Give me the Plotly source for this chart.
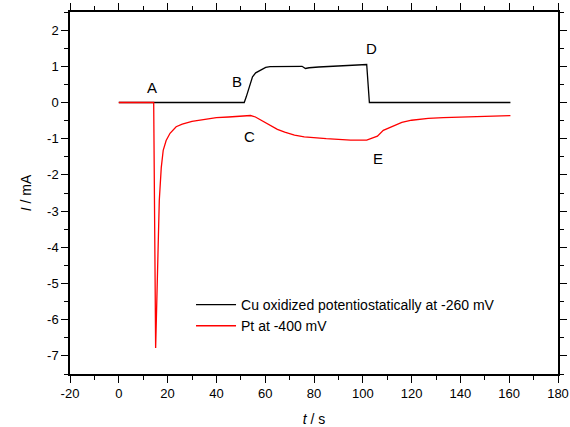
import plotly.graph_objects as go

# Cu oxidized potentiostatically at -260 mV (black)
t_cu = [0, 51.4, 52.2, 53.4, 54.8, 56.1, 58.2, 60.2, 62, 70, 75.1, 76.5, 78, 81.9, 90, 95, 101.6, 102.7, 160.5]
i_cu = [0, 0, 0.15, 0.43, 0.71, 0.82, 0.89, 0.97, 0.99, 1.0, 1.0, 0.94, 0.96, 0.98, 1.01, 1.03, 1.05, 0, 0]

# Pt at -400 mV (red)
t_pt = [0, 14.3, 15.1, 16.6, 17.4, 18.2, 19.4, 21, 23.5, 26, 30, 35, 40, 45, 50, 54, 56, 58.8, 62, 65, 68, 72, 76, 80, 85,
        90, 95, 101.6, 104.4, 106, 108.4, 111, 113.2, 116, 120, 126.8, 133, 140, 150, 160.5]
i_pt = [0, 0, -6.78, -2.7, -1.8, -1.32, -1.05, -0.85, -0.67, -0.6, -0.52, -0.46, -0.42, -0.4, -0.37, -0.36, -0.4, -0.51,
        -0.63, -0.74, -0.82, -0.9, -0.95, -0.98, -1.0, -1.02, -1.04, -1.04, -0.97, -0.93, -0.77, -0.7, -0.63, -0.55,
        -0.49, -0.44, -0.42, -0.4, -0.38, -0.36]

names = ["Cu oxidized potentiostatically at -260 mV", "Pt at -400 mV"]

# point labels
lab_text = ["A", "B", "C", "D", "E"]
lab_t = [13.7, 48.6, 53.7, 103.7, 106.1]
lab_i = [0.41, 0.57, -0.93, 1.49, -1.55]

# tick labels
x_ticks = [-20, 0, 20, 40, 60, 80, 100, 120, 140, 160, 180]
x_ticklabels = ["-20", "0", "20", "40", "60", "80", "100", "120", "140", "160", "180"]
y_ticks = [2, 1, 0, -1, -2, -3, -4, -5, -6, -7]
y_ticklabels = ["2", "1", "0", "-1", "-2", "-3", "-4", "-5", "-6", "-7"]

FONT = "Arial, Liberation Sans, sans-serif"

fig = go.Figure()
fig.add_trace(go.Scatter(x=t_cu, y=i_cu, mode="lines", name=names[0],
                         line=dict(color="#000000", width=1.3)))
fig.add_trace(go.Scatter(x=t_pt, y=i_pt, mode="lines", name=names[1],
                         line=dict(color="#ff0000", width=1.3)))

for txt, x, y in zip(lab_text, lab_t, lab_i):
    fig.add_annotation(x=x, y=y, text=txt, showarrow=False,
                       font=dict(family=FONT, size=15, color="black"))

axis_common = dict(showline=True, linecolor="black", linewidth=1.5, mirror="allticks",
                   ticks="outside", ticklen=7, tickwidth=1.3, tickcolor="black",
                   showgrid=False, zeroline=False, automargin=False,
                   ticklabeloverflow="allow",
                   tickfont=dict(family=FONT, size=13, color="black"))

fig.update_xaxes(range=[-20, 180], tickmode="array", tickvals=x_ticks, ticktext=x_ticklabels,
                 minor=dict(dtick=10, tick0=0, ticklen=4, ticks="outside", tickcolor="black", tickwidth=1.2),
                 title=dict(text="<i>t</i> / s", font=dict(family=FONT, size=14, color="black"), standoff=14),
                 **axis_common)
fig.update_yaxes(range=[-7.5, 2.5], tickmode="array", tickvals=y_ticks, ticktext=y_ticklabels,
                 minor=dict(dtick=0.5, tick0=0, ticklen=4, ticks="outside", tickcolor="black", tickwidth=1.2),
                 title=dict(text="<i>I</i> / mA", font=dict(family=FONT, size=14, color="black"), standoff=12),
                 **axis_common)

fig.update_layout(
    width=570, height=427,
    margin=dict(l=70, r=12, t=12, b=53),
    paper_bgcolor="white", plot_bgcolor="white",
    font=dict(family=FONT, color="black"),
    legend=dict(x=0.248, y=0.235, xanchor="left", yanchor="top",
                bgcolor="rgba(0,0,0,0)", font=dict(family=FONT, size=14, color="black"),
                tracegroupgap=0, itemwidth=40),
    showlegend=True,
)

fig.write_html("out.html")
